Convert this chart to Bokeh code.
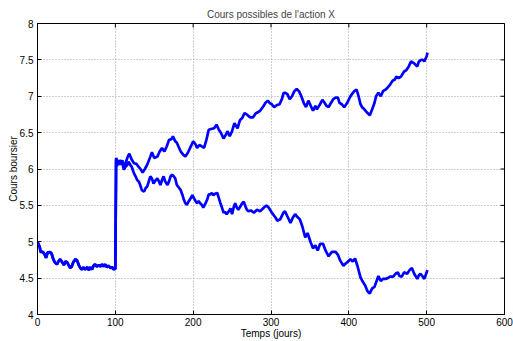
import math
from bokeh.plotting import figure
from bokeh.models import FixedTicker, Range1d
from bokeh.embed import file_html
from bokeh.resources import INLINE

# ---- data ----
days_start = [0, 3, 4, 7, 9, 11, 13, 16, 18, 20, 22, 25, 27, 29, 31, 34, 36, 38, 40, 42,
              44, 46, 49, 51, 53, 55, 57, 59, 61, 64, 66, 68, 70, 72, 74, 76, 79, 81, 83, 85,
              87, 89, 91, 94, 96, 98, 100]
price_start = [5.00, 4.92, 4.86, 4.86, 4.83, 4.78, 4.85, 4.86, 4.84, 4.77, 4.72, 4.69, 4.73, 4.76, 4.73, 4.68, 4.73, 4.72, 4.68, 4.64,
               4.66, 4.72, 4.76, 4.74, 4.68, 4.64, 4.62, 4.65, 4.62, 4.65, 4.61, 4.65, 4.62, 4.67, 4.69, 4.66, 4.68, 4.66, 4.69, 4.66,
               4.69, 4.65, 4.67, 4.64, 4.65, 4.62, 4.63]

days_high = [101, 102, 104, 106, 109, 111, 113, 116, 118, 121, 124, 127, 130, 133, 135, 138, 141, 145, 147, 150,
             154, 157, 160, 163, 166, 169, 172, 174, 177, 179, 184, 187, 190, 193, 197, 200, 203, 205, 208, 211,
             214, 217, 220, 223, 227, 230, 233, 236, 239, 242, 244, 247, 250, 253, 257, 260, 263, 266, 270, 273,
             277, 280, 283, 286, 290, 293, 296, 298, 301, 304, 308, 311, 314, 316, 318, 321, 324, 327, 330, 333,
             336, 339, 342, 345, 348, 351, 354, 357, 359, 363, 366, 369, 371, 374, 376, 380, 383, 386, 388, 391,
             394, 398, 401, 404, 407, 410, 413, 415, 417, 420, 423, 427, 430, 433, 435, 438, 441, 444, 447, 450,
             453, 456, 459, 461, 464, 467, 471, 474, 477, 480, 483, 486, 488, 490, 493, 495, 497, 500, 501]
price_high = [6.13, 6.04, 6.11, 6.06, 6.12, 6.02, 6.08, 6.17, 6.21, 6.13, 6.08, 6.07, 6.03, 5.99, 5.95, 6.00, 6.06, 6.17, 6.23, 6.15,
              6.17, 6.24, 6.29, 6.24, 6.31, 6.40, 6.41, 6.45, 6.38, 6.36, 6.24, 6.20, 6.17, 6.22, 6.31, 6.38, 6.34, 6.29, 6.33, 6.31,
              6.29, 6.40, 6.54, 6.55, 6.56, 6.61, 6.54, 6.49, 6.42, 6.47, 6.52, 6.45, 6.52, 6.63, 6.56, 6.67, 6.70, 6.77, 6.74, 6.71,
              6.71, 6.76, 6.78, 6.80, 6.86, 6.91, 6.94, 6.91, 6.89, 6.85, 6.88, 6.89, 6.96, 7.04, 7.05, 7.03, 6.96, 7.00, 7.07, 7.10,
              7.07, 7.00, 6.91, 6.85, 6.94, 6.87, 6.80, 6.87, 6.82, 6.89, 6.95, 6.91, 6.87, 6.85, 6.89, 6.96, 6.98, 6.98, 6.91, 6.89,
              6.85, 6.91, 6.98, 7.03, 7.07, 7.09, 6.98, 6.89, 6.85, 6.82, 6.78, 6.74, 6.82, 6.91, 7.00, 7.05, 7.00, 7.07, 7.09, 7.12,
              7.16, 7.21, 7.23, 7.27, 7.25, 7.27, 7.34, 7.36, 7.41, 7.48, 7.46, 7.43, 7.41, 7.48, 7.50, 7.50, 7.48, 7.55, 7.60]

days_low = [101, 104, 106, 109, 111, 113, 115, 117, 119, 121, 124, 126, 128, 130, 132, 134, 137, 139, 141, 143,
            145, 147, 149, 152, 154, 156, 158, 160, 162, 164, 167, 169, 171, 173, 175, 177, 179, 182, 184, 186,
            188, 190, 192, 194, 197, 199, 201, 203, 205, 207, 209, 211, 213, 216, 218, 220, 222, 224, 226, 228,
            231, 233, 235, 237, 239, 241, 243, 246, 248, 250, 252, 254, 256, 258, 261, 263, 265, 267, 269, 271,
            274, 278, 282, 286, 291, 294, 297, 301, 306, 308, 312, 316, 318, 321, 325, 328, 331, 333, 337, 340,
            344, 347, 351, 354, 357, 360, 363, 367, 370, 374, 378, 383, 386, 389, 393, 396, 399, 402, 405, 408,
            411, 415, 418, 421, 424, 427, 430, 433, 436, 438, 441, 444, 447, 450, 453, 457, 460, 463, 465, 468,
            471, 475, 478, 481, 484, 488, 490, 492, 495, 497, 500, 501]
price_low = [6.15, 6.08, 6.12, 6.08, 5.99, 6.03, 6.05, 6.10, 6.06, 6.03, 5.94, 5.90, 5.85, 5.83, 5.78, 5.71, 5.69, 5.74, 5.76, 5.83,
             5.90, 5.87, 5.80, 5.85, 5.87, 5.83, 5.78, 5.85, 5.90, 5.83, 5.78, 5.83, 5.90, 5.92, 5.90, 5.87, 5.78, 5.74, 5.71, 5.65,
             5.58, 5.53, 5.51, 5.55, 5.60, 5.64, 5.60, 5.56, 5.53, 5.56, 5.53, 5.51, 5.47, 5.53, 5.58, 5.65, 5.65, 5.67, 5.64, 5.66,
             5.67, 5.60, 5.53, 5.47, 5.40, 5.41, 5.38, 5.42, 5.46, 5.38, 5.47, 5.53, 5.47, 5.44, 5.49, 5.53, 5.55, 5.49, 5.44, 5.42,
             5.43, 5.40, 5.44, 5.42, 5.47, 5.50, 5.47, 5.40, 5.33, 5.29, 5.31, 5.40, 5.42, 5.35, 5.26, 5.33, 5.38, 5.35, 5.31, 5.22,
             5.06, 5.12, 4.99, 4.91, 4.95, 4.88, 4.97, 4.97, 4.88, 4.80, 4.86, 4.86, 4.82, 4.74, 4.67, 4.70, 4.73, 4.76, 4.73, 4.77,
             4.67, 4.51, 4.45, 4.40, 4.32, 4.29, 4.36, 4.38, 4.47, 4.53, 4.46, 4.49, 4.49, 4.50, 4.52, 4.52, 4.56, 4.58, 4.53, 4.52,
             4.58, 4.56, 4.61, 4.64, 4.56, 4.49, 4.54, 4.56, 4.52, 4.49, 4.58, 4.61]

x_ticks = [0, 100, 200, 300, 400, 500, 600]
x_tick_labels = ["0", "100", "200", "300", "400", "500", "600"]
y_ticks = [4, 4.5, 5, 5.5, 6, 6.5, 7, 7.5, 8]
y_tick_labels = ["4", "4.5", "5", "5.5", "6", "6.5", "7", "7.5", "8"]

title_text = "Cours possibles de l'action X"
x_label = "Temps (jours)"
y_label = "Cours boursier"

FONT = "Liberation Sans"
FS = "10px"

p = figure(width=513, height=341,
           x_range=Range1d(x_ticks[0], x_ticks[-1]), y_range=Range1d(y_ticks[0], y_ticks[-1]),
           output_backend="svg", toolbar_location=None, title=title_text,
           min_border=0, min_border_left=37, min_border_right=9, min_border_top=23,
           min_border_bottom=23, x_axis_label=x_label, y_axis_label=y_label)

p.title.align = "center"
p.title.text_font = FONT
p.title.text_font_size = FS
p.title.text_font_style = "normal"
p.title.standoff = 7

p.outline_line_color = "black"
p.outline_line_width = 1
p.background_fill_color = "white"
p.border_fill_color = "white"


def style_axis(ax, ticks, labels):
    ax.ticker = FixedTicker(ticks=ticks)
    ax.major_label_overrides = {t: l for t, l in zip(ticks, labels)}
    ax.major_tick_in = 4
    ax.major_tick_out = 0
    ax.minor_tick_in = 0
    ax.minor_tick_out = 0
    ax.axis_line_color = "black"
    ax.major_tick_line_color = "black"
    ax.major_label_text_font = FONT
    ax.major_label_text_font_size = FS
    ax.major_label_text_color = "black"
    ax.axis_label_text_font = FONT
    ax.axis_label_text_font_size = FS
    ax.axis_label_text_font_style = "normal"
    ax.axis_label_text_color = "black"


style_axis(p.xaxis[0], x_ticks, x_tick_labels)
style_axis(p.yaxis[0], y_ticks, y_tick_labels)
p.xaxis[0].major_label_standoff = 3
p.xaxis[0].axis_label_standoff = -1
p.yaxis[0].major_label_standoff = 4
p.yaxis[0].axis_label_standoff = -2

p.xgrid.ticker = FixedTicker(ticks=x_ticks)
p.ygrid.ticker = FixedTicker(ticks=y_ticks)
p.grid.grid_line_color = "#a0a0a0"
p.grid.grid_line_dash = "1 2"
p.grid.grid_line_width = 1

# inward tick marks on the top and right edges of the box (half of each dash is clipped by the frame)
p.scatter(x=x_ticks, y=[y_ticks[-1]] * len(x_ticks), marker="dash", angle=math.pi / 2,
          size=8, line_color="black", line_width=1)
p.scatter(x=[x_ticks[-1]] * len(y_ticks), y=y_ticks, marker="dash", angle=0,
          size=8, line_color="black", line_width=1)

line_color = "#0000ff"
p.line(days_start + days_high, price_start + price_high, line_color=line_color, line_width=2.7)
p.line(days_start + days_low, price_start + price_low, line_color=line_color, line_width=2.7)

open("out.html", "w").write(file_html(p, INLINE))
